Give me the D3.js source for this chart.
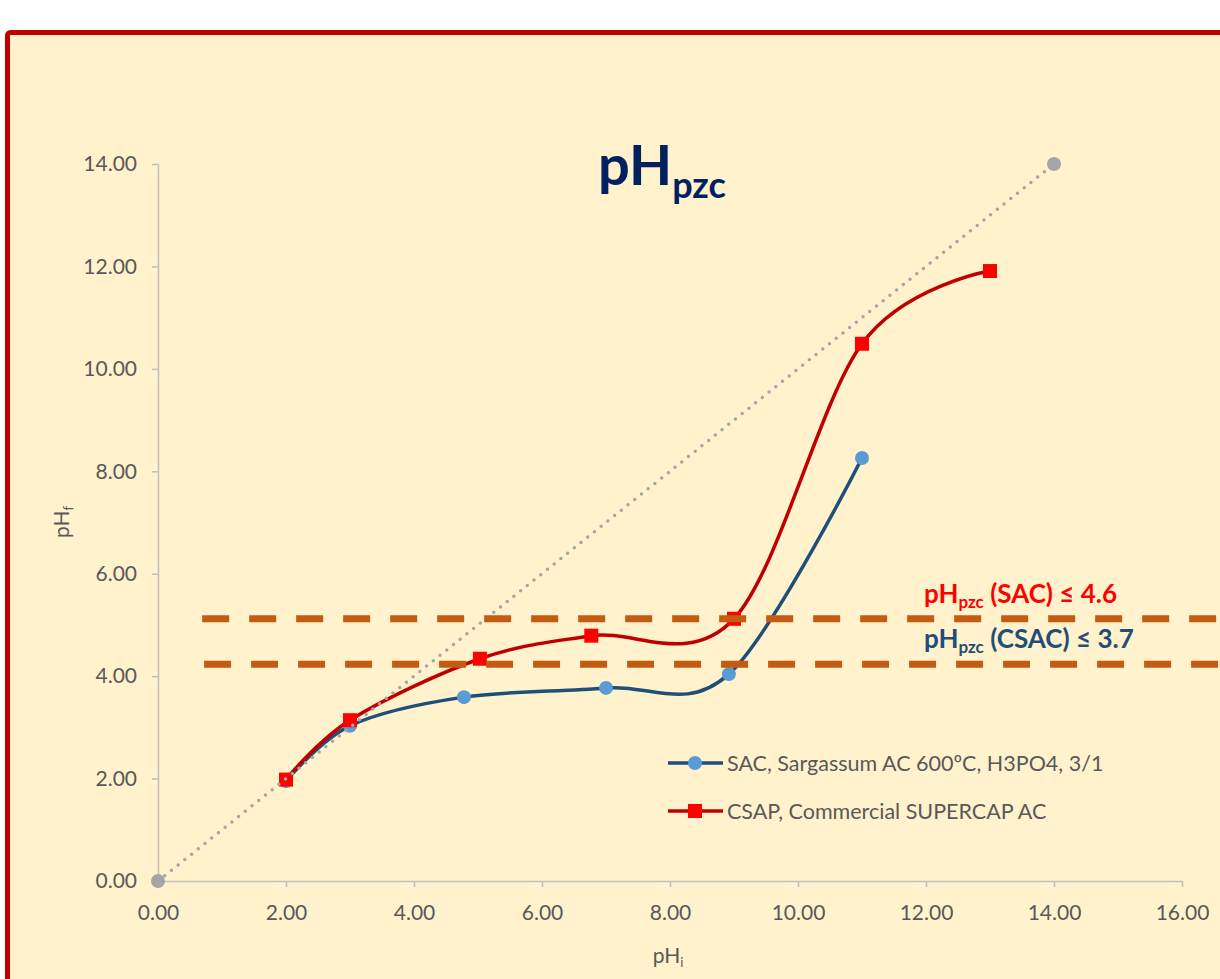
<!DOCTYPE html>
<html>
<head>
<meta charset="utf-8">
<script src="https://cdn.jsdelivr.net/npm/d3@7"></script>
<style>
  html, body { margin: 0; padding: 0; background: #ffffff; }
  svg { display: block; }
  text { font-family: Lato, "Open Sans", sans-serif; }
</style>
</head>
<body>
<svg id="chart" width="1220" height="979"></svg>
<script>
// ---- data ----
const sacX = [2, 3, 4.78, 7.0, 8.92, 11.0];
const sacY = [1.95, 3.03, 3.59, 3.77, 4.04, 8.26];
const csapX = [2, 3, 5.03, 6.77, 9.0, 11.0, 13.0];
const csapY = [1.98, 3.14, 4.34, 4.79, 5.12, 10.49, 11.91];
const diagX = [0, 14];
const diagY = [0, 14];
const refLineY = [5.12, 4.23];
const refLineStart = [0.69, 0.72];
const refLineEnd = 16.8;
const xTicks = [0, 2, 4, 6, 8, 10, 12, 14, 16];
const yTicks = [0, 2, 4, 6, 8, 10, 12, 14];
const seriesNames = ["SAC, Sargassum AC 600ºC, H3PO4, 3/1", "CSAP, Commercial SUPERCAP AC"];
const annotations = [
  { main: "pH", sub: "pzc", rest: " (SAC) ≤ 4.6", color: "#FF0000" },
  { main: "pH", sub: "pzc", rest: " (CSAC) ≤ 3.7", color: "#1F4E79" }
];

// ---- layout ----
const svg = d3.select("#chart");
const W = 1220, H = 979;
const plot = { left: 158, right: 1182, top: 164, bottom: 881 };

// background + border
svg.append("rect").attr("x", 0).attr("y", 0).attr("width", W).attr("height", H).attr("fill", "#ffffff");
svg.append("rect")
  .attr("x", 7.5).attr("y", 32.5).attr("width", W + 20).attr("height", H + 20)
  .attr("rx", 3)
  .attr("fill", "#FFF2CC").attr("stroke", "#C00000").attr("stroke-width", 5);

const x = d3.scaleLinear().domain([0, 16]).range([plot.left, plot.right]);
const y = d3.scaleLinear().domain([0, 14]).range([plot.bottom, plot.top]);

// axes
const axisColor = "#BFBFBF";
const tickFmt = d3.format(".2f");
const xAxis = svg.append("g").attr("transform", `translate(0,${plot.bottom})`)
  .call(d3.axisBottom(x).tickValues(xTicks).tickFormat(tickFmt).tickSizeOuter(0).tickSizeInner(6).tickPadding(18));
const yAxis = svg.append("g").attr("transform", `translate(${plot.left},0)`)
  .call(d3.axisLeft(y).tickValues(yTicks).tickFormat(tickFmt).tickSizeOuter(0).tickSizeInner(6).tickPadding(15));
[xAxis, yAxis].forEach(g => {
  g.select(".domain").attr("stroke", axisColor).attr("stroke-width", 1.5);
  g.selectAll(".tick line").attr("stroke", axisColor).attr("stroke-width", 1.5);
  g.selectAll(".tick text").attr("fill", "#595959").style("font-size", "21px").style("font-family", "Lato, 'Open Sans', sans-serif");
});
xAxis.selectAll(".tick").filter(d => d === 0).select("line").remove();
yAxis.selectAll(".tick").filter(d => d === 0).select("line").remove();

// axis titles
const xt = svg.append("text").attr("x", 668).attr("y", 963).attr("text-anchor", "middle")
  .attr("fill", "#595959").style("font-size", "21px");
xt.append("tspan").text("pH");
xt.append("tspan").attr("dy", 4).style("font-size", "13px").text("i");

const yt = svg.append("text").attr("transform", "translate(69,522) rotate(-90)").attr("text-anchor", "middle")
  .attr("fill", "#595959").style("font-size", "21px");
yt.append("tspan").text("pH");
yt.append("tspan").attr("dy", 4).style("font-size", "13px").text("f");

// title
const title = svg.append("text").attr("x", 598).attr("y", 185).attr("fill", "#002060")
  .style("font-weight", "bold").style("font-size", "56px");
title.append("tspan").text("pH");
title.append("tspan").attr("dy", 13).style("font-size", "36px").text("pzc");

// series
const curve = d3.curveCardinal.tension(0);
const line = d3.line().x(d => x(d[0])).y(d => y(d[1])).curve(curve);
const sac = sacX.map((v, i) => [v, sacY[i]]);
const csap = csapX.map((v, i) => [v, csapY[i]]);

svg.append("path").datum(sac).attr("d", line).attr("fill", "none")
  .attr("stroke", "#1F4E79").attr("stroke-width", 3.5).attr("stroke-linecap", "round");
svg.append("g").selectAll("circle").data(sac).join("circle")
  .attr("cx", d => x(d[0])).attr("cy", d => y(d[1])).attr("r", 7).attr("fill", "#5B9BD5");

svg.append("path").datum(csap).attr("d", line).attr("fill", "none")
  .attr("stroke", "#C00000").attr("stroke-width", 3.5).attr("stroke-linecap", "round");
svg.append("g").selectAll("rect").data(csap).join("rect")
  .attr("x", d => x(d[0]) - 7).attr("y", d => y(d[1]) - 7).attr("width", 14).attr("height", 14).attr("fill", "#FF0000");

// diagonal dotted
const diag = diagX.map((v, i) => [v, diagY[i]]);
svg.append("path").datum(diag).attr("d", d3.line().x(d => x(d[0])).y(d => y(d[1])))
  .attr("fill", "none").attr("stroke", "#A6A6A6").attr("stroke-width", 3.5)
  .attr("stroke-linecap", "round").attr("stroke-dasharray", "0 8.6");
svg.append("g").selectAll("circle").data(diag).join("circle")
  .attr("cx", d => x(d[0])).attr("cy", d => y(d[1])).attr("r", 7).attr("fill", "#A5A5A5");

// reference dashed lines
refLineY.forEach((v, i) => {
  svg.append("line")
    .attr("x1", x(refLineStart[i])).attr("x2", x(refLineEnd))
    .attr("y1", y(v)).attr("y2", y(v))
    .attr("stroke", "#C55A11").attr("stroke-width", 7).attr("stroke-dasharray", "27 20");
});

// annotations
const annY = [603, 648];
annotations.forEach((a, i) => {
  const t = svg.append("text").attr("x", 924).attr("y", annY[i]).attr("fill", a.color)
    .style("font-weight", "bold").style("font-size", "26px");
  t.append("tspan").text(a.main);
  t.append("tspan").attr("dy", 5).style("font-size", "17px").text(a.sub);
  t.append("tspan").attr("dy", -5).text(a.rest);
});

// legend
const legY = [763, 811];
const legColors = [{ line: "#1F4E79", mark: "#5B9BD5", shape: "circle" }, { line: "#C00000", mark: "#FF0000", shape: "square" }];
seriesNames.forEach((name, i) => {
  const g = svg.append("g");
  g.append("line").attr("x1", 668).attr("x2", 723).attr("y1", legY[i]).attr("y2", legY[i])
    .attr("stroke", legColors[i].line).attr("stroke-width", 3.5);
  if (legColors[i].shape === "circle") {
    g.append("circle").attr("cx", 695).attr("cy", legY[i]).attr("r", 7).attr("fill", legColors[i].mark);
  } else {
    g.append("rect").attr("x", 688).attr("y", legY[i] - 7).attr("width", 14).attr("height", 14).attr("fill", legColors[i].mark);
  }
  g.append("text").attr("x", 727).attr("y", legY[i] + 7.5).attr("fill", "#595959")
    .style("font-size", "21.5px").text(name);
});
</script>
</body>
</html>
